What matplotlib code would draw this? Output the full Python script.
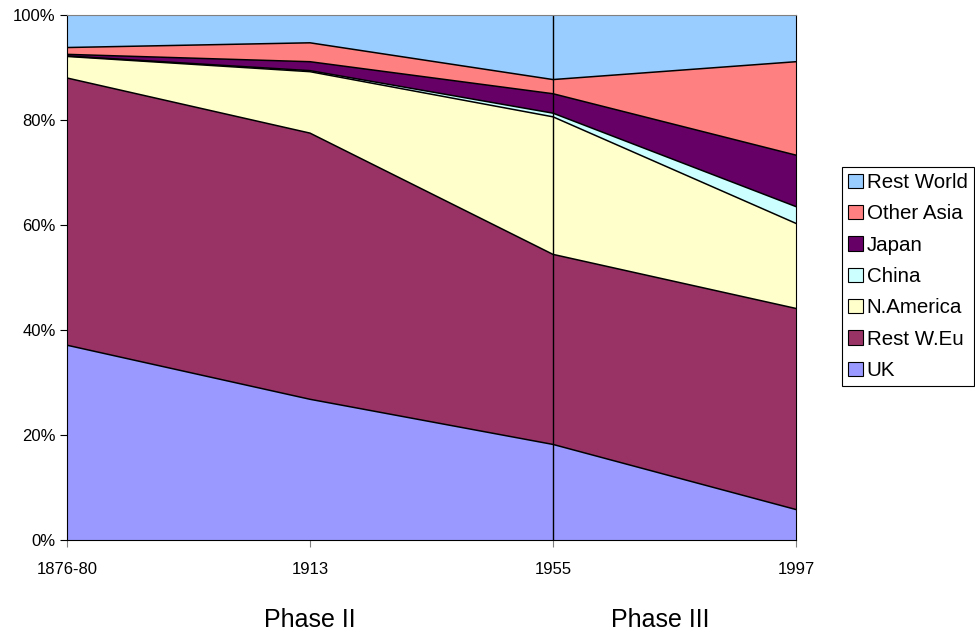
import matplotlib
matplotlib.use("Agg")
import matplotlib.pyplot as plt
import numpy as np

plt.rcParams['font.family'] = ['Liberation Sans', 'DejaVu Sans']

periods = ['1876-80', '1913', '1955', '1997']
regions = ['UK', 'Rest W.Eu', 'N.America', 'China', 'Japan', 'Other Asia', 'Rest World']
uk = [37.1, 26.8, 18.2, 5.8]
rest_weu = [50.9, 50.7, 36.2, 38.3]
n_america = [4.1, 11.7, 26.2, 16.2]
china = [0.1, 0.2, 0.7, 3.2]
japan = [0.3, 1.7, 3.7, 9.8]
other_asia = [1.3, 3.6, 2.7, 17.8]
rest_world = [6.2, 5.3, 12.3, 8.9]
phases = ['Phase II', 'Phase III']

colors = ['#9999FF', '#993366', '#FFFFCC', '#CCFFFF', '#660066', '#FF8080', '#99CCFF']

series = np.array([uk, rest_weu, n_america, china, japan, other_asia, rest_world])
shares = series / series.sum(axis=0) * 100
x = np.arange(len(periods))

fig = plt.figure(figsize=(9.75, 6.32), dpi=100)
ax = fig.add_axes([0.0687, 0.1456, 0.7477, 0.8307])

polys = ax.stackplot(x, shares, colors=colors, labels=regions, linewidth=0)
cum = np.cumsum(shares, axis=0)
for row in cum[:-1]:
    ax.plot(x, row, color='black', lw=1.1)

# divider at 1955
ax.axvline(2, color='black', lw=1)

ax.set_xlim(0, 3)
ax.set_ylim(0, 100)
ax.set_xticks(x)
ax.set_xticklabels(periods, fontsize=12)
ax.set_yticks(np.arange(0, 101, 20))
ax.set_yticklabels([f'{v}%' for v in range(0, 101, 20)], fontsize=12)
ax.tick_params(axis='x', length=5, color='#808080', pad=11)
ax.tick_params(axis='y', length=5, color='black', pad=3)
for s in ['left', 'bottom']:
    ax.spines[s].set_color('black')
ax.spines['top'].set_color('#808080')
ax.spines['right'].set_color('black')

# phase labels below the axis
fig.text(310 / 975, 1 - 620 / 632, phases[0], fontsize=18, ha='center', va='center')
fig.text(660 / 975, 1 - 620 / 632, phases[1], fontsize=18, ha='center', va='center')

h, l = ax.get_legend_handles_labels()
leg = fig.legend(h[::-1], l[::-1], loc='upper left', bbox_to_anchor=(0.8636, 0.7358),
                 bbox_transform=fig.transFigure, borderaxespad=0, fontsize=14.8,
                 frameon=True, fancybox=False, edgecolor='black', framealpha=1,
                 handlelength=0.7, handleheight=0.7, handletextpad=0.2,
                 labelspacing=0.6, borderpad=0.3)
leg.get_frame().set_linewidth(0.8)
for p in leg.legend_handles:
    p.set_edgecolor('black')
    p.set_linewidth(0.8)

fig.savefig('out.png', dpi=100)
